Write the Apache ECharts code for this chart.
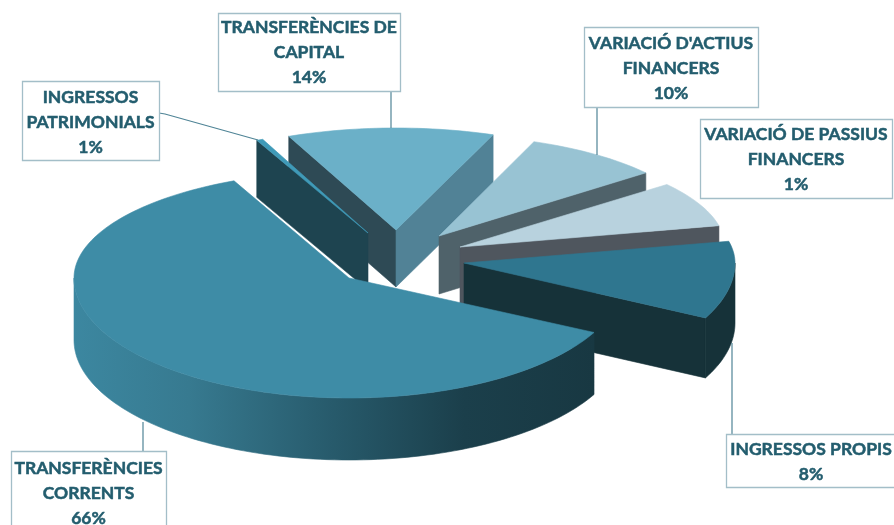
<!DOCTYPE html>
<html>
<head>
<meta charset="utf-8">
<style>html,body{margin:0;padding:0;background:#fff}#c{width:894px;height:525px}</style>
<script src="https://cdn.jsdelivr.net/npm/echarts@6/dist/echarts.min.js"></script>
</head>
<body>
<div id="c"></div>
<script>
// ---- data: clockwise from the lower-right edge of the largest slice
var categories = ['TRANSFERÈNCIES\nCORRENTS', 'INGRESSOS\nPATRIMONIALS', 'TRANSFERÈNCIES DE\nCAPITAL', "VARIACIÓ D'ACTIUS\nFINANCERS", 'VARIACIÓ DE PASSIUS\nFINANCERS', 'INGRESSOS PROPIS'];
var labelPercents = ['66%', '1%', '14%', '10%', '1%', '8%'];
// share of the circle each slice occupies as drawn in the picture
var drawnShares = [60.64, 0.39, 12.31, 8.42, 7.33, 10.92];

// ---- layout and style
var START_ANGLE = 117;
var geometry = [
  {x: 349, y: 278, rx: 275, far: 107, near: 120, depth: 62, z: 6},
  {x: 368, y: 233, rx: 266, far: 102, near: 120, depth: 57, z: 2},
  {x: 396, y: 230, rx: 271, far: 102, near: 120, depth: 57, z: 1},
  {x: 439, y: 236, rx: 265, far: 101, near: 120, depth: 58, z: 3},
  {x: 460, y: 247, rx: 265, far: 100, near: 120, depth: 57, z: 4},
  {x: 464, y: 263, rx: 271, far: 102, near: 121, depth: 60, z: 5}
];
var mainWall = new echarts.graphic.LinearGradient(74, 0, 594, 0, [
  {offset: 0, color: '#3c87a0'}, {offset: 0.22, color: '#377a90'},
  {offset: 0.5, color: '#275a6b'}, {offset: 0.75, color: '#1b3f4b'}, {offset: 1, color: '#183842'}
], true);
var faces = [
  {top: '#3e8ca6', startWall: null, endWall: null, outer: mainWall},
  {top: '#3f9ab8', startWall: '#1e4450', endWall: null, outer: null},
  {top: '#6bb0c8', startWall: '#2e4a55', endWall: '#518296', outer: null},
  {top: '#98c3d3', startWall: null, endWall: '#4f626a', outer: null},
  {top: '#b8d2de', startWall: null, endWall: '#4f565e', outer: null},
  {top: '#2f768f', startWall: null, endWall: '#163239', outer: '#163239'}
];
var boxes = [
  {x: 11, y: 451, w: 155, h: 90, lineY: 468},
  {x: 22, y: 81, w: 137, h: 79, lineY: 97},
  {x: 218, y: 13, w: 182, h: 78, lineY: 27.5},
  {x: 584, y: 27, w: 174, h: 80, lineY: 43},
  {x: 700, y: 119, w: 192, h: 79, lineY: 134.5},
  {x: 726, y: 434, w: 170, h: 53, lineY: 449}
];
var leaders = [
  [[143, 422], [143, 451]],
  [[159, 113], [165, 114], [258, 140]],
  [[391, 128], [391, 91]],
  [[597, 155], [597, 107]],
  [],
  [[732, 343], [732, 434]]
];

var total = drawnShares.reduce(function (a, b) { return a + b; }, 0);
function angleAt(share) {
  return echarts.number.linearMap(share, [0, total], [START_ANGLE, START_ANGLE + 360]);
}
function rimPoint(g, deg, drop) {
  var t = deg * Math.PI / 180, c = Math.cos(t);
  return [g.x + g.rx * Math.sin(t), g.y - c * (c > 0 ? g.far : g.near) + (drop || 0)];
}
function arc(g, a0, a1, drop) {
  var pts = [], n = Math.max(2, Math.ceil(Math.abs(a1 - a0) / 1.5));
  for (var i = 0; i <= n; i++) pts.push(rimPoint(g, a0 + (a1 - a0) * i / n, drop));
  return pts;
}
function poly(points, fill, z) {
  return {type: 'polygon', z2: z, shape: {points: points},
    style: {fill: fill, stroke: fill, lineWidth: 0.6}, silent: true};
}
function cutWall(g, deg, fill, z) {
  var rim = rimPoint(g, deg), low = rimPoint(g, deg, g.depth);
  return poly([[g.x, g.y], rim, low, [g.x, g.y + g.depth]], fill, z);
}
function renderItem(params, api) {
  var i = params.dataIndex, before = 0;
  for (var k = 0; k < i; k++) before += drawnShares[k];
  var a0 = angleAt(before), a1 = angleAt(before + api.value(0));
  if (a0 >= 360) { a0 -= 360; a1 -= 360; }
  var g = geometry[i], f = faces[i], kids = [], z = g.z * 10;
  if (f.startWall) kids.push(cutWall(g, a0, f.startWall, z));
  if (f.endWall) kids.push(cutWall(g, a1, f.endWall, z + 1));
  if (f.outer) {
    // only the near half of the rim wall can be seen
    var from = Math.max(a0, 90), to = Math.min(a1, 270);
    kids.push(poly(arc(g, from, to, 0).concat(arc(g, to, from, g.depth)), f.outer, z + 2));
  }
  kids.push(poly([[g.x, g.y]].concat(arc(g, a0, a1, 0)), f.top, z + 3));
  return {type: 'group', children: kids};
}

var graphics = [];
leaders.forEach(function (pts) {
  if (pts.length) graphics.push({type: 'polyline', z: 90, silent: true, shape: {points: pts},
    style: {fill: null, stroke: '#4f8496', lineWidth: 1.2}});
});
boxes.forEach(function (b, i) {
  graphics.push({type: 'rect', z: 91, silent: true, shape: {x: b.x + 0.5, y: b.y + 0.5, width: b.w, height: b.h},
    style: {fill: '#fff', stroke: '#a3bec8', lineWidth: 1.3}});
  var lines = categories[i].split('\n').concat(labelPercents[i]);
  lines.forEach(function (t, n) {
    graphics.push({type: 'text', z: 92, silent: true, style: {
      text: t, x: b.x + b.w / 2, y: b.lineY + n * 25, align: 'center', verticalAlign: 'middle',
      font: '700 17.5px Lato', fill: '#235d6e', stroke: '#235d6e', lineWidth: 0.5}});
  });
});

var chart = echarts.init(document.getElementById('c'), null, {renderer: 'canvas'});
chart.setOption({
  animation: false,
  backgroundColor: '#fff',
  graphic: {elements: graphics},
  series: [{
    type: 'custom',
    coordinateSystem: 'none',
    renderItem: renderItem,
    clip: false,
    silent: true,
    data: drawnShares.map(function (v, i) { return {name: categories[i], value: [v]}; })
  }]
});
</script>
</body>
</html>
